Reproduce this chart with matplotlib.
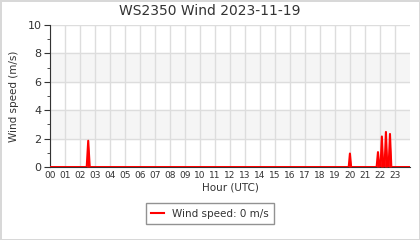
import numpy as np
import matplotlib
matplotlib.use("Agg")
import matplotlib.pyplot as plt
from matplotlib.ticker import MultipleLocator

# ── Data (hours UTC, wind speed m/s) ─────────────────────────────────────────
hours = [0.0, 2.45, 2.55, 2.65,
         19.92, 20.0, 20.08,
         21.78, 21.87, 21.96, 22.04, 22.13, 22.22, 22.31, 22.4, 22.49,
         22.58, 22.67, 22.76, 24.0]
speed = [0.0, 0.0, 1.85, 0.0,
         0.0, 0.95, 0.0,
         0.0, 1.05, 0.0, 0.0, 2.15, 0.0, 0.0, 2.47, 0.0,
         0.0, 2.33, 0.0, 0.0]
hour_labels = [f"{h:02d}" for h in range(24)]
title = "WS2350 Wind 2023-11-19"
legend_label = "Wind speed: 0 m/s"

TXT = "#333333"
GRID = "#dddddd"

fig = plt.figure(figsize=(4.2, 2.4), dpi=100, edgecolor="#d8d8d8", linewidth=2)
ax = fig.add_axes([0.119, 0.304, 0.857, 0.592])

# alternating bands
for lo, hi in [(2, 4), (6, 8)]:
    ax.axhspan(lo, hi, color="#f5f5f5", zorder=0)

ax.fill_between(hours, speed, 0, color="#ff0000", linewidth=0, zorder=3)
line, = ax.plot(hours, speed, color="#ff0000", linewidth=1.5, zorder=4,
                label=legend_label)

ax.set_xlim(0, 24)
ax.set_ylim(0, 10)
ax.set_xticks(range(24))
ax.set_xticklabels(hour_labels)
ax.yaxis.set_major_locator(MultipleLocator(2))
ax.yaxis.set_minor_locator(MultipleLocator(1))
ax.tick_params(axis="x", length=0, labelsize=6.5, colors=TXT, pad=3)
ax.tick_params(axis="y", which="major", length=4, labelsize=8, colors=TXT, pad=2)
ax.tick_params(axis="y", which="minor", length=2, color=TXT)

ax.grid(True, color=GRID, linewidth=1, zorder=1)
ax.set_axisbelow(True)
for s in ["top", "right"]:
    ax.spines[s].set_visible(False)
ax.spines["left"].set_color(TXT)
ax.spines["bottom"].set_color(TXT)
ax.spines["bottom"].set_zorder(2)

ax.set_xlabel("Hour (UTC)", fontsize=7.5, color=TXT, labelpad=2)
ax.set_ylabel("Wind speed (m/s)", fontsize=7.5, color=TXT, labelpad=6)
fig.suptitle(title, fontsize=10, color=TXT, y=0.985)

leg = fig.legend(handles=[line], loc="center", bbox_to_anchor=(0.5, 0.11),
                 fontsize=7.5, frameon=True, fancybox=False,
                 handlelength=1.2, borderpad=0.5)
leg.get_frame().set_edgecolor("#777777")
leg.get_frame().set_linewidth(1)
for t in leg.get_texts():
    t.set_color(TXT)

fig.savefig("out.png", dpi=100, edgecolor=fig.get_edgecolor())
